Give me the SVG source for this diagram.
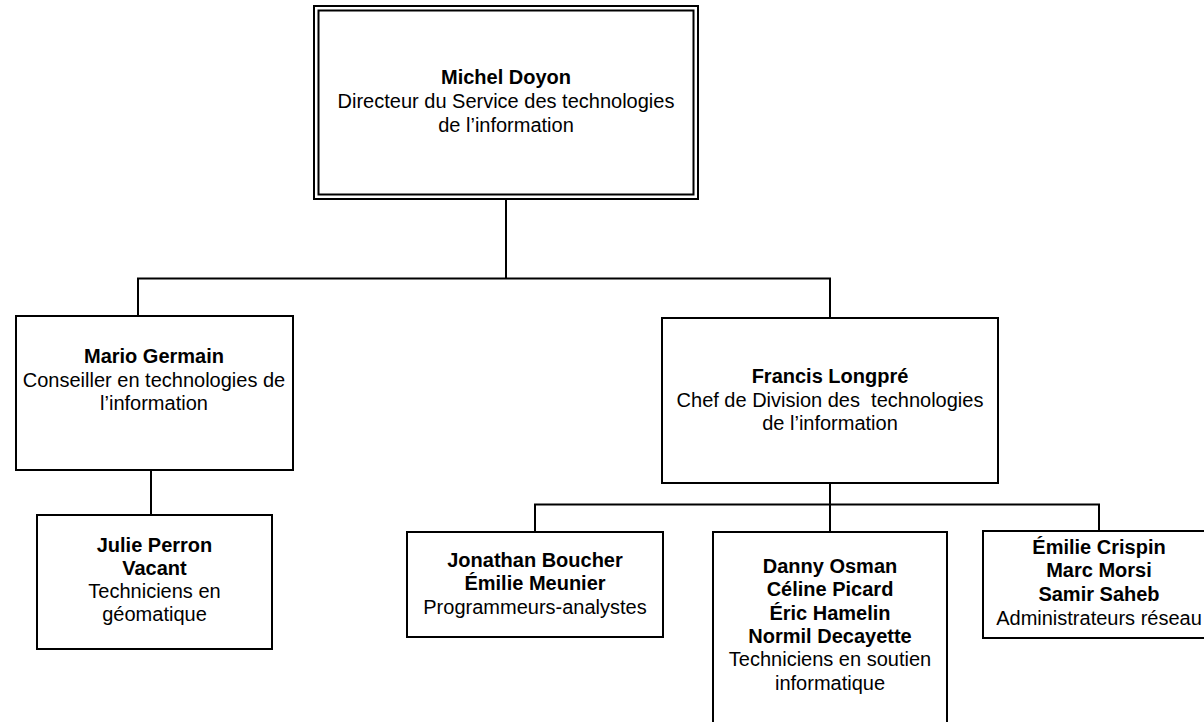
<svg xmlns="http://www.w3.org/2000/svg" width="1204" height="722" viewBox="0 0 1204 722">
<style>
.box{fill:#fff;stroke:#000;stroke-width:2}
.ln{fill:none;stroke:#000;stroke-width:2}
text{font-family:"Liberation Sans",Arial,sans-serif;font-size:20px;fill:#000;text-anchor:middle}
.b{font-weight:bold}
</style>
<rect width="1204" height="722" fill="#fff"/>
<g id="connectors">
<path class="ln" d="M506,199 V278.5 M138,316 V278.5 H830 V318"/>
<path class="ln" d="M151,470 V515"/>
<path class="ln" d="M830,483 V532 M535,532 V504.5 H1099 V531"/>
</g>
<g id="michel">
<rect class="box" x="314" y="6" width="384" height="193"/>
<rect class="box" x="318.5" y="10.5" width="375" height="184"/>
<text x="506" y="84" class="b">Michel Doyon</text>
<text x="506" y="108">Directeur du Service des technologies</text>
<text x="506" y="132">de l’information</text>
</g>
<g id="mario">
<rect class="box" x="16" y="316" width="277" height="154"/>
<text x="154" y="363" class="b">Mario Germain</text>
<text x="154" y="386.5">Conseiller en technologies de</text>
<text x="154" y="410">l’information</text>
</g>
<g id="francis">
<rect class="box" x="662" y="318" width="336" height="165"/>
<text x="830" y="383" class="b">Francis Longpré</text>
<text x="830" y="406.5" xml:space="preserve">Chef de Division des  technologies</text>
<text x="830" y="429.5">de l’information</text>
</g>
<g id="julie">
<rect class="box" x="37" y="515" width="235" height="134"/>
<text x="154.5" y="551.5" class="b">Julie Perron</text>
<text x="154.5" y="575" class="b">Vacant</text>
<text x="154.5" y="598">Techniciens en</text>
<text x="154.5" y="621">géomatique</text>
</g>
<g id="jonathan">
<rect class="box" x="407" y="532" width="256" height="105"/>
<text x="535" y="567" class="b">Jonathan Boucher</text>
<text x="535" y="590" class="b">Émilie Meunier</text>
<text x="535" y="613.5">Programmeurs-analystes</text>
</g>
<g id="danny">
<rect class="box" x="713" y="532" width="234" height="200"/>
<text x="830" y="572.5" class="b">Danny Osman</text>
<text x="830" y="596" class="b">Céline Picard</text>
<text x="830" y="619.5" class="b">Éric Hamelin</text>
<text x="830" y="642.5" class="b">Normil Decayette</text>
<text x="830" y="666">Techniciens en soutien</text>
<text x="830" y="689.5">informatique</text>
</g>
<g id="emilie">
<rect class="box" x="983" y="531" width="240" height="107"/>
<text x="1099" y="553.5" class="b">Émilie Crispin</text>
<text x="1099" y="577" class="b">Marc Morsi</text>
<text x="1099" y="601" class="b">Samir Saheb</text>
<text x="1099" y="624.5">Administrateurs réseau</text>
</g>
</svg>
